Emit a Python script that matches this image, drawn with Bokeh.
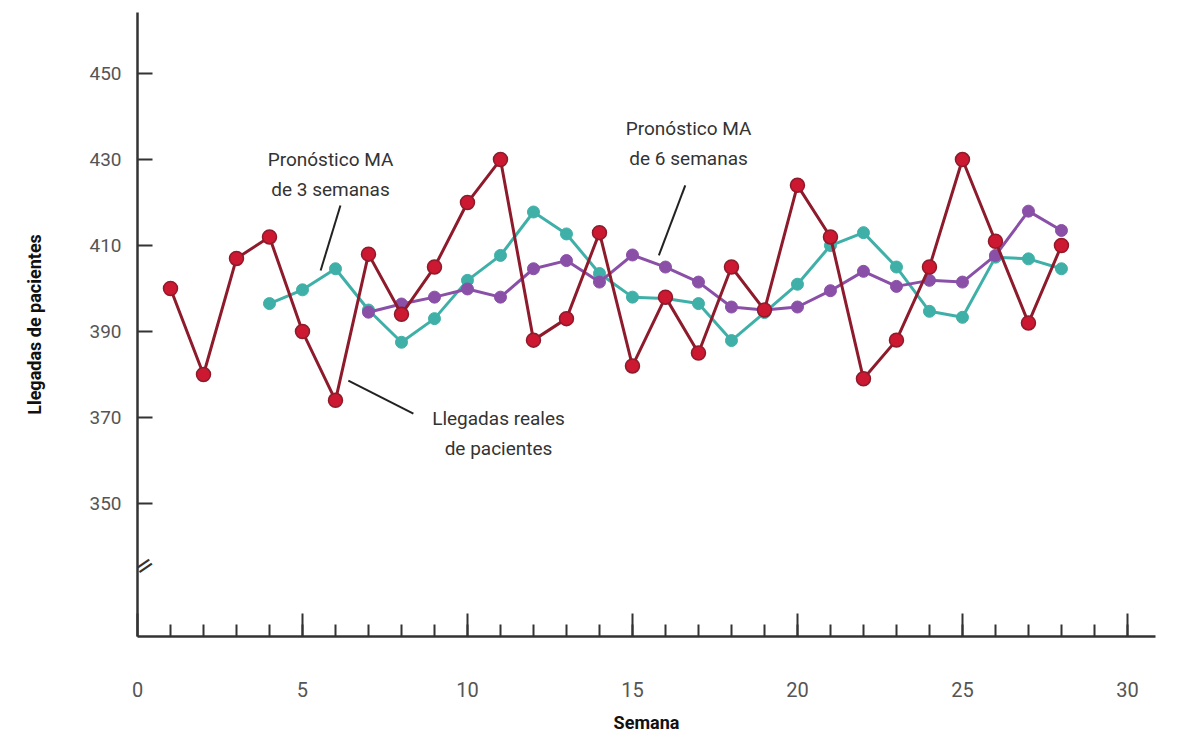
from bokeh.plotting import figure
from bokeh.models import Label, FixedTicker, ColumnDataSource
from bokeh.embed import file_html
from bokeh.resources import INLINE

# ---- data ----
weeks_actual = list(range(1, 29))
actual = [400, 380, 407, 412, 390, 374, 408, 394, 405, 420, 430, 388, 393, 413,
          382, 398, 385, 405, 395, 424, 412, 379, 388, 405, 430, 411, 392, 410]

weeks_ma3 = list(range(4, 29))
ma3 = [396.5, 399.7, 404.6, 395, 387.5, 393, 401.9, 407.7, 417.8, 412.7, 403.5,
       398, 397.7, 396.5, 387.9, 394.4, 401, 410, 413, 405, 394.7, 393.3, 407.3,
       406.9, 404.6]

weeks_ma6 = list(range(7, 29))
ma6 = [394.5, 396.4, 398, 399.9, 398, 404.6, 406.5, 401.5, 407.8, 405, 401.5,
       395.7, 395, 395.7, 399.5, 404, 400.5, 401.9, 401.5, 407.7, 418, 413.5]

x_ticks = [0, 5, 10, 15, 20, 25, 30]
y_ticks = [350, 370, 390, 410, 430, 450]

FONT = "Roboto"
RED_LINE = "#8e1b2c"
RED_FILL = "#cc1830"
CYAN = "#3fb0a8"
PURPLE = "#8a50a8"

p = figure(width=1176, height=735, output_backend="svg", toolbar_location=None,
           x_range=(0, 30.85), y_range=(319.07, 464.2),
           min_border_left=137, min_border_right=21, min_border_top=12,
           min_border_bottom=98)
p.outline_line_color = None
p.grid.grid_line_color = None
p.background_fill_color = "white"

# x axis
xa = p.xaxis[0]
xa.ticker = FixedTicker(ticks=x_ticks, minor_ticks=list(range(1, 31)))
xa.major_tick_in = 23
xa.major_tick_out = 0
xa.minor_tick_in = 12
xa.minor_tick_out = 0
xa.axis_line_width = 2.5
xa.major_tick_line_width = 2
xa.minor_tick_line_width = 2
xa.axis_line_color = "#333333"
xa.major_tick_line_color = "#333333"
xa.minor_tick_line_color = "#333333"
xa.major_label_text_font = FONT
xa.major_label_text_font_size = "20px"
xa.major_label_text_color = "#555555"
xa.major_label_standoff = 45
xa.axis_label = "Semana"
xa.axis_label_text_font = FONT
xa.axis_label_text_font_style = "bold"
xa.axis_label_text_font_size = "18px"
xa.axis_label_text_color = "#111111"
xa.axis_label_standoff = 12

# y axis
ya = p.yaxis[0]
ya.ticker = FixedTicker(ticks=y_ticks, minor_ticks=[])
ya.major_tick_in = 15
ya.major_tick_out = 0
ya.minor_tick_in = 0
ya.minor_tick_out = 0
ya.axis_line_width = 2.5
ya.major_tick_line_width = 2
ya.axis_line_color = "#333333"
ya.major_tick_line_color = "#333333"
ya.major_label_text_font = FONT
ya.major_label_text_font_size = "19px"
ya.major_label_text_color = "#555555"
ya.major_label_standoff = 16
ya.axis_label = "Llegadas de pacientes"
ya.axis_label_text_font = FONT
ya.axis_label_text_font_style = "bold"
ya.axis_label_text_font_size = "18px"
ya.axis_label_text_color = "#111111"
ya.axis_label_standoff = 41

# series
s_act = ColumnDataSource(dict(x=weeks_actual, y=actual))
s_ma3 = ColumnDataSource(dict(x=weeks_ma3, y=ma3))
s_ma6 = ColumnDataSource(dict(x=weeks_ma6, y=ma6))

p.line("x", "y", source=s_ma3, line_color=CYAN, line_width=3)
p.scatter("x", "y", source=s_ma3, size=12, fill_color=CYAN, line_color=CYAN)
p.line("x", "y", source=s_ma6, line_color=PURPLE, line_width=3)
p.scatter("x", "y", source=s_ma6, size=12, fill_color=PURPLE, line_color=PURPLE)
p.line("x", "y", source=s_act, line_color=RED_LINE, line_width=3)
p.scatter("x", "y", source=s_act, size=14, fill_color=RED_FILL, line_color=RED_LINE,
          line_width=1.5)


# annotations (text + leader lines)
def note(x, y, text):
    p.add_layout(Label(x=x, y=y, text=text, text_font=FONT, text_font_size="19px",
                       text_color="#333333", text_align="center",
                       text_baseline="middle", text_line_height=1.3))


def leader(x0, y0, x1, y1):
    p.segment(x0=[x0], y0=[y0], x1=[x1], y1=[y1], line_color="#222222", line_width=2)


note(5.85, 426.5, "Pronóstico MA\nde 3 semanas")
leader(6.15, 419.3, 5.55, 404.2)

note(16.7, 433.7, "Pronóstico MA\nde 6 semanas")
leader(16.6, 424.0, 15.8, 407.7)

note(10.94, 366.3, "Llegadas reales\nde pacientes")
leader(6.39, 378.6, 8.36, 370.9)

# axis break marks (two short parallel strokes)
p.add_layout(Label(x=0.2, y=335.6, text="=", angle=0.6,
                   text_font="DejaVu Sans", text_font_size="24px",
                   text_color="#333333", text_align="center", text_baseline="middle"))

open("out.html", "w").write(file_html(p, INLINE))
